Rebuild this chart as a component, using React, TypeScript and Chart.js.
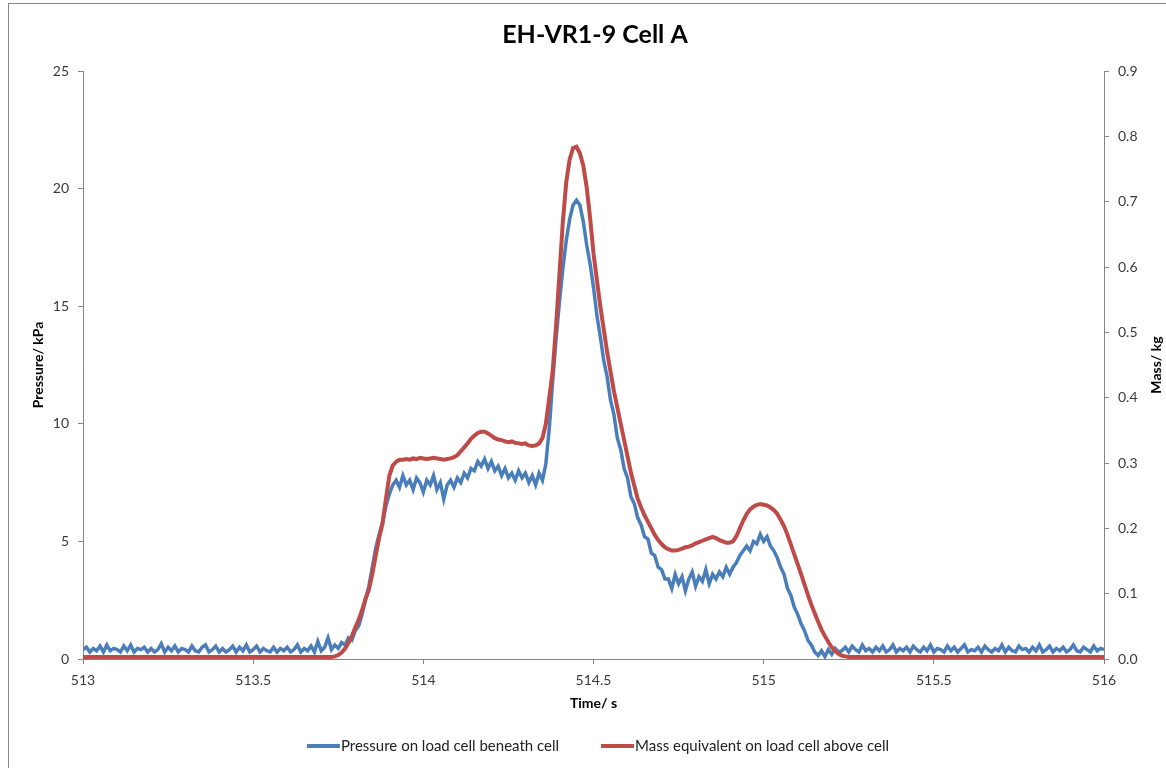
import React, { useEffect, useRef } from 'react';
import { Chart, registerables } from 'chart.js';

Chart.register(...registerables);

// ---------- DATA ----------
const chartTitle = 'EH-VR1-9 Cell A';
const xAxisTitle = 'Time/ s';
const leftAxisTitle = 'Pressure/ kPa';
const rightAxisTitle = 'Mass/ kg';
const seriesLabels = ['Pressure on load cell beneath cell', 'Mass equivalent on load cell above cell'];

const timeTicks = [513, 513.5, 514, 514.5, 515, 515.5, 516];
const timeTickLabels = ['513', '513.5', '514', '514.5', '515', '515.5', '516'];
const pressureTicks = [0, 5, 10, 15, 20, 25];
const pressureTickLabels = ['0', '5', '10', '15', '20', '25'];
const massTicks = [0, 0.1, 0.2, 0.3, 0.4, 0.5, 0.6, 0.7, 0.8, 0.9];
const massTickLabels = ['0.0', '0.1', '0.2', '0.3', '0.4', '0.5', '0.6', '0.7', '0.8', '0.9'];

// samples every 0.01 s from 513.00 to 516.00
const sampleStart = 513.0;
const sampleStep = 0.01;

// Pressure on load cell beneath cell (kPa)
const pressureKPa = [
  // 513.00 - 513.70
  0.4, 0.5, 0.3, 0.45, 0.35, 0.55, 0.3, 0.6, 0.35, 0.45,
  0.4, 0.3, 0.55, 0.35, 0.6, 0.3, 0.45, 0.4, 0.5, 0.3,
  0.45, 0.3, 0.4, 0.65, 0.3, 0.5, 0.35, 0.55, 0.3, 0.45,
  0.4, 0.3, 0.55, 0.35, 0.3, 0.5, 0.6, 0.3, 0.4, 0.55,
  0.3, 0.45, 0.3, 0.4, 0.55, 0.3, 0.5, 0.35, 0.6, 0.3,
  0.4, 0.55, 0.3, 0.45, 0.35, 0.3, 0.5, 0.3, 0.45, 0.35,
  0.5, 0.3, 0.4, 0.6, 0.3, 0.45, 0.35, 0.55, 0.3, 0.75,
  0.35,
  // 513.71 - 513.92
  0.5, 0.9, 0.4, 0.6, 0.45, 0.7, 0.6, 0.9, 0.8, 1.2,
  1.4, 1.9, 2.5, 3.1, 3.9, 4.7, 5.3, 5.8, 6.5, 7.0,
  7.4, 7.6,
  // 513.93 - 514.09
  7.3, 7.8, 7.4, 7.6, 7.2, 7.7, 7.5, 7.1, 7.6, 7.4,
  7.8, 7.2, 7.5, 6.8, 7.4, 7.6, 7.3,
  // 514.10 - 514.35
  7.7, 7.5, 7.9, 7.7, 8.1, 8.0, 8.4, 8.2, 8.5, 8.1,
  8.4, 8.0, 8.2, 7.8, 8.1, 7.7, 7.9, 7.6, 8.0, 7.7,
  7.9, 7.5, 7.8, 7.4, 7.9, 7.6,
  // 514.36 - 514.72
  8.3, 9.8, 11.8, 13.6, 15.2, 16.6, 17.8, 18.7, 19.3, 19.5,
  19.3, 18.6, 17.6, 16.8, 15.8, 14.6, 13.7, 12.7, 12.0, 11.0,
  10.4, 9.4, 8.9, 8.1, 7.7, 6.9, 6.6, 6.0, 5.7, 5.2,
  5.1, 4.5, 4.4, 3.9, 3.8, 3.4, 3.4,
  // 514.73 - 514.86
  3.0, 3.6, 3.2, 3.5, 2.9, 3.4, 3.7, 3.1, 3.5, 3.3,
  3.8, 3.2, 3.6, 3.4,
  // 514.87 - 515.22
  3.7, 3.5, 3.9, 3.6, 3.9, 4.1, 4.4, 4.6, 4.8, 4.6,
  5.0, 4.9, 5.3, 5.0, 5.2, 4.8, 4.6, 4.3, 3.9, 3.6,
  3.0, 2.7, 2.2, 1.9, 1.5, 1.2, 0.8, 0.6, 0.3, 0.15,
  0.35, 0.1, 0.4, 0.2, 0.45, 0.3,
  // 515.23 - 516.00
  0.35, 0.5, 0.3, 0.55, 0.4, 0.3, 0.6, 0.35, 0.45, 0.3,
  0.5, 0.35, 0.55, 0.3, 0.4, 0.6, 0.3, 0.45, 0.35, 0.5,
  0.3, 0.55, 0.4, 0.3, 0.5, 0.35, 0.6, 0.3, 0.45, 0.4,
  0.3, 0.55, 0.35, 0.5, 0.3, 0.45, 0.6, 0.3, 0.4, 0.35,
  0.5, 0.3, 0.55, 0.4, 0.3, 0.45, 0.35, 0.6, 0.3, 0.5,
  0.35, 0.3, 0.55, 0.4, 0.45, 0.3, 0.5, 0.35, 0.6, 0.3,
  0.4, 0.55, 0.3, 0.45, 0.35, 0.5, 0.3, 0.4, 0.6, 0.35,
  0.3, 0.5, 0.4, 0.3, 0.55, 0.35, 0.45, 0.4,
];

// Mass equivalent on load cell above cell (kg)
const massKg = [
  // 513.00 - 513.73
  0.003, 0.003, 0.003, 0.003, 0.003, 0.003, 0.003, 0.003, 0.003, 0.003,
  0.003, 0.003, 0.003, 0.003, 0.003, 0.003, 0.003, 0.003, 0.003, 0.003,
  0.003, 0.003, 0.003, 0.003, 0.003, 0.003, 0.003, 0.003, 0.003, 0.003,
  0.003, 0.003, 0.003, 0.003, 0.003, 0.003, 0.003, 0.003, 0.003, 0.003,
  0.003, 0.003, 0.003, 0.003, 0.003, 0.003, 0.003, 0.003, 0.003, 0.003,
  0.003, 0.003, 0.003, 0.003, 0.003, 0.003, 0.003, 0.003, 0.003, 0.003,
  0.003, 0.003, 0.003, 0.003, 0.003, 0.003, 0.003, 0.003, 0.003, 0.003,
  0.003, 0.003, 0.003, 0.003,
  // 513.74 - 513.92
  0.004, 0.006, 0.01, 0.016, 0.025, 0.035, 0.048, 0.06, 0.075, 0.092,
  0.106, 0.13, 0.158, 0.185, 0.207, 0.245, 0.28, 0.296, 0.302,
  // 513.93 - 514.09
  0.305, 0.305, 0.306, 0.305, 0.307, 0.306, 0.308, 0.307, 0.306, 0.307,
  0.308, 0.307, 0.306, 0.305, 0.306, 0.307, 0.309,
  // 514.10 - 514.35
  0.312, 0.318, 0.324, 0.33, 0.337, 0.342, 0.346, 0.348, 0.348, 0.345,
  0.342, 0.338, 0.336, 0.335, 0.333, 0.332, 0.333, 0.331, 0.33, 0.329,
  0.33, 0.327, 0.326, 0.327, 0.33, 0.338,
  // 514.36 - 515.24
  0.36, 0.4, 0.44, 0.51, 0.59, 0.67, 0.73, 0.765, 0.782, 0.784,
  0.774, 0.755, 0.722, 0.675, 0.621, 0.58, 0.54, 0.505, 0.47, 0.44,
  0.41, 0.385, 0.36, 0.335, 0.31, 0.285, 0.265, 0.245, 0.232, 0.22,
  0.21, 0.2, 0.19, 0.182, 0.176, 0.171, 0.168, 0.166, 0.166, 0.167,
  0.169, 0.171, 0.172, 0.174, 0.177, 0.179, 0.181, 0.183, 0.185, 0.187,
  0.185, 0.182, 0.18, 0.178, 0.178, 0.18, 0.188, 0.2, 0.212, 0.222,
  0.229, 0.233, 0.236, 0.237,
  0.236, 0.235, 0.232, 0.228, 0.222, 0.213, 0.203, 0.19, 0.175, 0.16,
  0.145, 0.13, 0.114, 0.098, 0.083, 0.07, 0.057, 0.045, 0.035, 0.026,
  0.018, 0.012, 0.008, 0.005, 0.004,
  // 515.25 - 516.00
  0.003, 0.003, 0.003, 0.003, 0.003, 0.003, 0.003, 0.003, 0.003, 0.003,
  0.003, 0.003, 0.003, 0.003, 0.003, 0.003, 0.003, 0.003, 0.003, 0.003,
  0.003, 0.003, 0.003, 0.003, 0.003, 0.003, 0.003, 0.003, 0.003, 0.003,
  0.003, 0.003, 0.003, 0.003, 0.003, 0.003, 0.003, 0.003, 0.003, 0.003,
  0.003, 0.003, 0.003, 0.003, 0.003, 0.003, 0.003, 0.003, 0.003, 0.003,
  0.003, 0.003, 0.003, 0.003, 0.003, 0.003, 0.003, 0.003, 0.003, 0.003,
  0.003, 0.003, 0.003, 0.003, 0.003, 0.003, 0.003, 0.003, 0.003, 0.003,
  0.003, 0.003, 0.003, 0.003, 0.003, 0.003,
];

// ---------- STYLE ----------
const FONT = 'Lato, "Liberation Sans", Arial, sans-serif';
const BLUE = '#4A7EBB';
const RED = '#BE4B48';
const AXIS = '#868686';
const TICK_TEXT = '#3a3a3a';

const CANVAS_W = 1172;
const CANVAS_H = 764;

const sampleTime = (i: number) => Math.round((sampleStart + i * sampleStep) * 100) / 100;

const bottomLegend = {
  id: 'bottomLegend',
  afterDraw(chart: any) {
    const ctx = chart.ctx as CanvasRenderingContext2D;
    ctx.save();
    ctx.font = `15px ${FONT}`;
    ctx.textBaseline = 'middle';
    ctx.textAlign = 'left';
    const lineLen = 33;
    const gapText = 1;
    const gapItem = 42;
    const items = chart.data.datasets.map((ds: any) => ({ text: ds.label, color: ds.borderColor }));
    const widths = items.map((it: any) => lineLen + gapText + ctx.measureText(it.text).width);
    const total = widths.reduce((a: number, b: number) => a + b, 0) + gapItem * (items.length - 1);
    let x = 589 - total / 2;
    const y = 742;
    items.forEach((it: any, i: number) => {
      ctx.strokeStyle = it.color;
      ctx.lineWidth = 4;
      ctx.beginPath();
      ctx.moveTo(x, y);
      ctx.lineTo(x + lineLen, y);
      ctx.stroke();
      ctx.fillStyle = '#222';
      ctx.fillText(it.text, x + lineLen + gapText, y);
      x += widths[i] + gapItem;
    });
    ctx.restore();
  },
};

const rightTitle = {
  id: 'rightTitle',
  afterDraw(chart: any) {
    const ctx = chart.ctx as CanvasRenderingContext2D;
    const area = chart.chartArea;
    ctx.save();
    ctx.font = `bold 14px ${FONT}`;
    ctx.fillStyle = '#000';
    ctx.textAlign = 'center';
    ctx.textBaseline = 'middle';
    ctx.translate(area.right + 52, (area.top + area.bottom) / 2);
    ctx.rotate(-Math.PI / 2);
    ctx.fillText(rightAxisTitle, 0, 0);
    ctx.restore();
  },
};

export default function App() {
  const ref = useRef<HTMLCanvasElement>(null);

  useEffect(() => {
    if (!ref.current) return;
    Chart.defaults.font.family = FONT;
    const gridOpts = {
      display: true,
      drawOnChartArea: false,
      drawTicks: true,
      tickLength: 5,
      color: AXIS,
      lineWidth: 1,
    };
    const borderOpts = { display: true, color: AXIS, width: 1 };

    const chart = new Chart(ref.current, {
      type: 'line',
      data: {
        datasets: [
          {
            label: seriesLabels[0],
            data: pressureKPa.map((v, i) => ({ x: sampleTime(i), y: v })),
            borderColor: BLUE,
            backgroundColor: BLUE,
            borderWidth: 3.5,
            pointRadius: 0,
            tension: 0,
            yAxisID: 'y',
            order: 1,
          },
          {
            label: seriesLabels[1],
            data: massKg.map((v, i) => ({ x: sampleTime(i), y: v })),
            borderColor: RED,
            backgroundColor: RED,
            borderWidth: 4,
            pointRadius: 0,
            tension: 0,
            yAxisID: 'y1',
            order: 0,
          },
        ],
      },
      options: {
        responsive: false,
        animation: false,
        events: [],
        layout: { padding: { left: 0, right: 0, top: 0, bottom: 49 } },
        plugins: {
          legend: { display: false },
          tooltip: { enabled: false },
          title: {
            display: true,
            text: chartTitle,
            color: '#000',
            font: { family: FONT, size: 25, weight: 'bold', lineHeight: 1.2 },
            padding: { top: 15.6, bottom: 21.4 },
          },
        },
        scales: {
          x: {
            type: 'linear',
            min: 513,
            max: 516,
            afterBuildTicks: (s: any) => {
              s.ticks = timeTicks.map((v) => ({ value: v }));
            },
            afterFit: (s: any) => {
              s.height = 60;
            },
            ticks: {
              color: TICK_TEXT,
              font: { family: FONT, size: 14 },
              padding: 8,
              maxRotation: 0,
              autoSkip: false,
              callback: (_v: any, i: number) => timeTickLabels[i],
            },
            grid: gridOpts,
            border: borderOpts,
            title: {
              display: true,
              text: xAxisTitle,
              color: '#000',
              font: { family: FONT, size: 14, weight: 'bold', lineHeight: 1.2 },
              padding: { top: 0, bottom: 7.6 },
            },
          },
          y: {
            type: 'linear',
            position: 'left',
            min: 0,
            max: 25,
            afterBuildTicks: (s: any) => {
              s.ticks = pressureTicks.map((v) => ({ value: v }));
            },
            afterFit: (s: any) => {
              s.width = 74;
            },
            ticks: {
              color: TICK_TEXT,
              font: { family: FONT, size: 14 },
              padding: 9,
              autoSkip: false,
              callback: (_v: any, i: number) => pressureTickLabels[i],
            },
            grid: gridOpts,
            border: borderOpts,
            title: {
              display: true,
              text: leftAxisTitle,
              color: '#000',
              font: { family: FONT, size: 14, weight: 'bold', lineHeight: 1.2 },
              padding: { top: 21, bottom: 0 },
            },
          },
          y1: {
            type: 'linear',
            position: 'right',
            min: 0,
            max: 0.9,
            afterBuildTicks: (s: any) => {
              s.ticks = massTicks.map((v) => ({ value: v }));
            },
            afterFit: (s: any) => {
              s.width = CANVAS_W - 1095;
            },
            ticks: {
              color: TICK_TEXT,
              font: { family: FONT, size: 14 },
              padding: 9,
              autoSkip: false,
              callback: (_v: any, i: number) => massTickLabels[i],
            },
            grid: gridOpts,
            border: borderOpts,
            title: { display: false },
          },
        },
      },
      plugins: [bottomLegend, rightTitle],
    } as any);

    return () => chart.destroy();
  }, []);

  return (
    <div
      style={{
        position: 'fixed',
        left: 0,
        top: 0,
        width: '100vw',
        height: '100vh',
        overflow: 'hidden',
        background: '#fff',
      }}
    >
      <div
        style={{
          position: 'absolute',
          left: 8,
          top: 3,
          width: 1400,
          height: 1000,
          border: `1px solid ${AXIS}`,
          boxSizing: 'border-box',
        }}
      >
        <canvas
          ref={ref}
          width={CANVAS_W}
          height={CANVAS_H}
          style={{ position: 'absolute', left: 0, top: 0, width: CANVAS_W, height: CANVAS_H, display: 'block' }}
        />
      </div>
    </div>
  );
}
